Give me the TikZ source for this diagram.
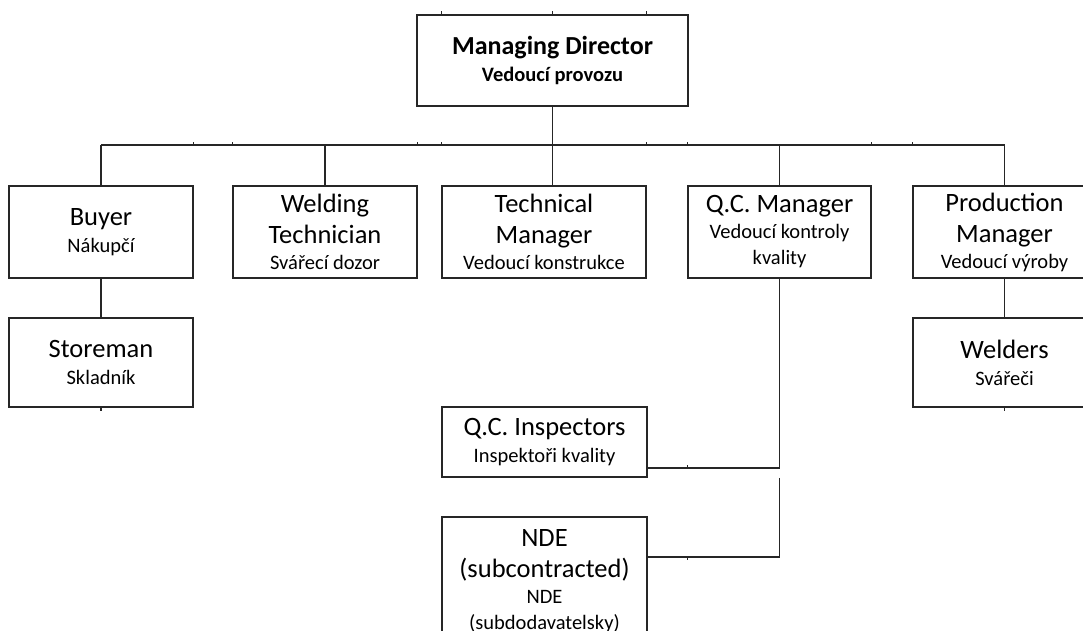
\documentclass[tikz,border=0pt]{standalone}
\usepackage{fontspec}
\setmainfont{Carlito}
\usetikzlibrary{calc}
\newcommand{\mainfs}{\fontsize{26.5}{31}\selectfont}
\newcommand{\subfs}{\fontsize{20.5}{26}\selectfont}
\newcommand{\mdfs}{\fontsize{26}{31}\selectfont\bfseries}
\newcommand{\mdsubfs}{\fontsize{20.5}{26}\selectfont\bfseries}
\begin{document}
\begin{tikzpicture}[x=1pt,y=-1pt,
  box/.style={draw=black!85,line width=1.6pt,fill=white,align=center,inner sep=0pt,font=\mainfs},
  link/.style={draw=black!85,line width=1.6pt},
  gridmark/.style={draw=black!85,line width=1.1pt}]
\useasboundingbox (0,0) rectangle (1083,630);
\clip (0,0) rectangle (1083,630);

% top of the chart
\node[box,font=\mdfs,minimum width=271pt,minimum height=91pt] (md) at (552.5,60.5)
  {Managing Director\\[-4pt]{\mdsubfs Vedoucí provozu}};

% second level
\node[box,minimum width=184pt,minimum height=92pt] (buyer) at (101,232)
  {Buyer\\[-4pt]{\subfs Nákupčí}};
\node[box,minimum width=184pt,minimum height=92pt] (weld) at (325,232)
  {Welding\\Technician\\[-5pt]{\subfs Svářecí dozor}};
\node[box,minimum width=204pt,minimum height=92pt] (tech) at (544,232)
  {Technical\\Manager\\[-5pt]{\subfs Vedoucí konstrukce}};
\node[box,minimum width=183pt,minimum height=92pt] (qcm) at (779.5,232)
  {Q.C. Manager\\[-5pt]{\subfs Vedoucí kontroly}\\[-5pt]{\subfs kvality}};
\node[box,minimum width=183pt,minimum height=92pt] (prod) at (1004.5,232)
  {Production\\Manager\\[-5pt]{\subfs Vedoucí výroby}};

% third level
\node[box,minimum width=184pt,minimum height=89pt] (store) at (101,362.5)
  {Storeman\\[-4pt]{\subfs Skladník}};
\node[box,minimum width=183pt,minimum height=89pt] (welders) at (1004.5,362.5)
  {Welders\\[-4pt]{\subfs Svářeči}};
\node[box,minimum width=205pt,minimum height=70pt] (qci) at (544.5,442)
  {Q.C. Inspectors\\[-4pt]{\subfs Inspektoři kvality}};
\node[box,minimum width=205pt,minimum height=128pt] (nde) at (544.5,581)
  {NDE\\(subcontracted)\\[-5pt]{\subfs NDE}\\[-5pt]{\subfs (subdodavatelsky)}};

% bus line
\coordinate (busL) at (buyer.north |- 0,145);
\coordinate (busR) at (prod.north |- 0,145);
\draw[link] (busL) -- (busR);
\draw[link] (md.south) -- (md.south |- tech.north);
\draw[link] (busL) -- (buyer.north);
\draw[link] (weld.north |- busL) -- (weld.north);
\draw[link] (qcm.north |- busL) -- (qcm.north);
\draw[link] (busR) -- (prod.north);

% lower branches
\draw[link] (buyer.south) -- (store.north);
\draw[link] (prod.south) -- (welders.north);
\coordinate (qciT) at ($(qci.south east)+(0,-10)$);
\coordinate (ndeT) at ($(nde.north east)+(0,41)$);
\draw[link] (qcm.south) -- (qcm.south |- qciT) -- (qciT);
\draw[link] (qcm.south |- qci.south) -- (qcm.south |- ndeT) -- (ndeT);

% small grid marks left on the lines
\foreach \n/\a in {buyer/east,weld/west,weld/east,tech/west,tech/east,qcm/west,qcm/east,prod/west}
  \draw[gridmark] (\n.\a |- busL) -- ++(0,-3);
\foreach \n/\a in {tech/west,md/center,tech/east}
  \draw[gridmark] (\n.\a |- md.north) -- ++(0,-3);
\draw[gridmark] (qcm.west |- qciT) -- ++(0,-3);
\draw[gridmark] (qcm.west |- ndeT) -- ++(0,3);
\draw[gridmark] (store.south) -- ++(0,3);
\draw[gridmark] (welders.south) -- ++(0,3);
\end{tikzpicture}
\end{document}
